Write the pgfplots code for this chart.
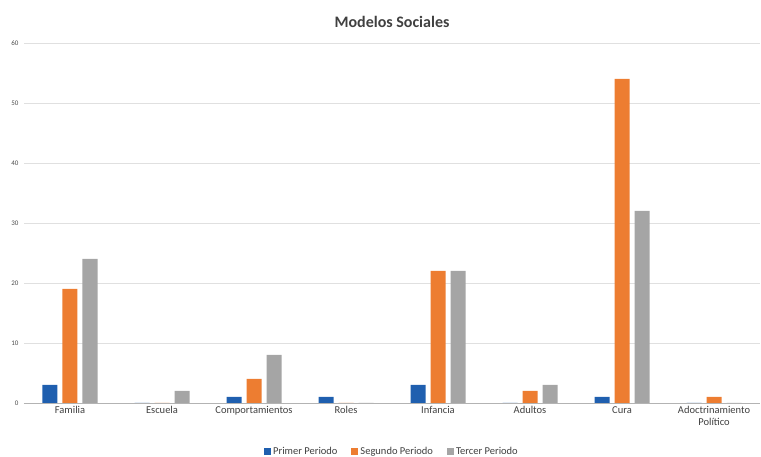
\documentclass[border=0pt]{standalone}
\usepackage{fontspec}
\setmainfont{Carlito}
\usepackage{pgfplots}
\pgfplotsset{compat=1.18}
\definecolor{cblue}{HTML}{1F5FAF}
\definecolor{corange}{HTML}{ED7D31}
\definecolor{cgray}{HTML}{A5A5A5}
\definecolor{cgrid}{HTML}{E0E0E0}
\begin{document}
\begin{tikzpicture}
\path[use as bounding box] (-24pt,-54pt) rectangle (737pt,403pt);
\begin{axis}[
    scale only axis,
    width=736pt, height=360pt,
    ybar=5pt, bar width=15pt,
    xmin=-0.5, xmax=7.5,
    ymin=0, ymax=60,
    ytick={0,10,...,60},
    xtick=data,
    xticklabels={Familia,Escuela,Comportamientos,Roles,Infancia,Adultos,Cura,{Adoctrinamiento\\Político}},
    xticklabel style={align=center, font=\fontsize{10.5}{12}\selectfont, text=black!75},
    yticklabel style={font=\fontsize{7}{8}\selectfont, text=black!70, xshift=-2pt},
    /pgf/number format/assume math mode=true,
    axis x line*=bottom,
    axis y line*=left,
    y axis line style={draw=none},
    x axis line style={cgrid!80!black, -},
    ymajorgrids, grid style={cgrid},
    major tick length=0pt,
    title={\bfseries Modelos Sociales},
    title style={font=\fontsize{16}{18}\selectfont, text=black!75, yshift=6pt},
    legend columns=-1,
    legend style={draw=none, at={(0.5,0)}, anchor=center, yshift=-49pt,
        font=\fontsize{10.5}{12}\selectfont, text=black!75,
        /tikz/every even column/.append style={column sep=12pt}},
    legend image code/.code={\fill[#1] (0pt,-3.5pt) rectangle (7pt,3.5pt);},
]
\addplot[fill=cblue, draw=none] coordinates {(0,3) (1,0) (2,1) (3,1) (4,3) (5,0) (6,1) (7,0)};
\addplot[fill=corange, draw=none] coordinates {(0,19) (1,0) (2,4) (3,0) (4,22) (5,2) (6,54) (7,1)};
\addplot[fill=cgray, draw=none] coordinates {(0,24) (1,2) (2,8) (3,0) (4,22) (5,3) (6,32) (7,0)};
\legend{Primer Periodo, Segundo Periodo, Tercer Periodo}
\end{axis}
\end{tikzpicture}
\end{document}
